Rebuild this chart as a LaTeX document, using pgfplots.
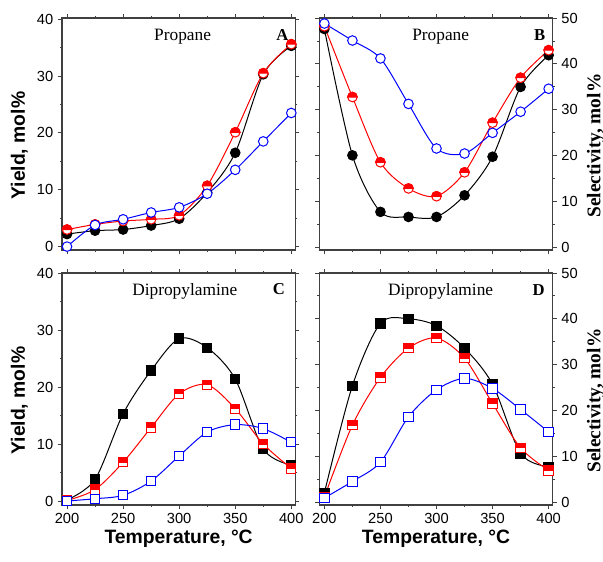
\documentclass[border=0pt]{standalone}
\usepackage{fontspec}
\setmainfont{Liberation Sans}
\newfontfamily\tnr{Liberation Serif}
\usepackage{pgfplots}
\pgfplotsset{compat=1.18}

% half-filled marks: top half red, bottom half white
\pgfdeclareplotmark{hcirc}{%
  \pgfpathcircle{\pgfpointorigin}{\pgfplotmarksize}%
  \pgfsetfillcolor{white}\pgfusepathqfillstroke
  \pgfpathmoveto{\pgfqpoint{\pgfplotmarksize}{0pt}}%
  \pgfpatharc{0}{180}{\pgfplotmarksize}%
  \pgfpathclose
  \pgfsetfillcolor{red}\pgfusepathqfillstroke}
\pgfdeclareplotmark{hsq}{%
  \pgfpathrectangle{\pgfqpoint{-\pgfplotmarksize}{-\pgfplotmarksize}}{\pgfqpoint{2\pgfplotmarksize}{2\pgfplotmarksize}}%
  \pgfsetfillcolor{white}\pgfusepathqfillstroke
  \pgfpathrectangle{\pgfqpoint{-\pgfplotmarksize}{0pt}}{\pgfqpoint{2\pgfplotmarksize}{\pgfplotmarksize}}%
  \pgfsetfillcolor{red}\pgfusepathqfillstroke}

\tikzset{
  ttl/.style={font=\tnr\fontsize{13}{13}\selectfont},
  lbl/.style={font=\tnr\bfseries\fontsize{12.5}{12.5}\selectfont},
}
\pgfplotsset{
  panel/.style={
    scale only axis, width=175pt, height=174pt,
    xmin=195.5, xmax=403.6,
    xtick={200,250,...,400}, minor x tick num=1,
    minor y tick num=1,
    tick align=outside, major tick length=3pt, minor tick length=1.6pt,
    axis line style={black!75, line width=0.9pt},
    every tick/.style={black!75, line width=0.7pt},
    tick label style={font=\fontsize{11}{11}\selectfont},
    /pgf/number format/assume math mode=true,
    label style={font=\bfseries\fontsize{14.5}{14.5}\selectfont},
    y label style={at={(ticklabel cs:0.45)}},
    x label style={yshift=2.5pt},
    clip=false,
  },
  left panel/.style={panel, ymin=-0.6, ymax=40.2, ytick={0,10,...,40},
    ylabel={Yield, mol\%}},
  right panel/.style={panel, ymin=-0.5, ymax=50, ytick={0,10,...,50},
    yticklabel pos=right,
    ylabel={\tnr Selectivity, mol\%}},
  blk/.style={black, line width=0.75pt, smooth},
  rd/.style={red, line width=0.75pt, smooth},
  bl/.style={blue, line width=0.75pt, smooth},
}

\begin{document}
\begin{tikzpicture}
\path[use as bounding box] (0pt,0pt) rectangle (452.25pt,-420.75pt);

% A
\begin{axis}[left panel, at={(46.5pt,-187.5pt)}, anchor=south west, xticklabels={}]
\addplot[blk, mark=*, mark size=3.6pt, mark options={fill=black}] coordinates {
 (200,2.2) (225,2.8) (250,3.0) (275,3.7) (300,4.9) (325,9.5) (350,16.5) (375,30.3) (400,35.3)};
\addplot[rd, mark=hcirc, mark size=3.6pt] coordinates {
 (200,3.0) (225,3.9) (250,4.5) (275,4.8) (300,5.5) (325,10.7) (350,20.1) (375,30.5) (400,35.6)};
\addplot[bl, mark=*, mark size=3.6pt, mark options={fill=white}] coordinates {
 (200,0.0) (225,3.8) (250,4.8) (275,6.0) (300,6.9) (325,9.3) (350,13.5) (375,18.5) (400,23.5)};
\node[ttl] at (axis description cs:0.517,0.92) {Propane};
\node[lbl] at (axis description cs:0.944,0.925) {A};
\end{axis}

% B
\begin{axis}[right panel, at={(239.5pt,-187.5pt)}, anchor=south west, xticklabels={}]
\addplot[blk, mark=*, mark size=3.6pt, mark options={fill=black}] coordinates {
 (200,47.6) (225,20.1) (250,7.8) (275,6.7) (300,6.7) (325,11.4) (350,19.8) (375,35.0) (400,41.9)};
\addplot[rd, mark=hcirc, mark size=3.6pt] coordinates {
 (200,48.2) (225,32.8) (250,18.6) (275,12.9) (300,11.2) (325,16.4) (350,27.2) (375,37.0) (400,43.0)};
\addplot[bl, mark=*, mark size=3.6pt, mark options={fill=white}] coordinates {
 (200,48.8) (225,45.1) (250,41.2) (275,31.3) (300,21.6) (325,20.5) (350,25.0) (375,29.6) (400,34.6)};
\node[ttl] at (axis description cs:0.52,0.92) {Propane};
\node[lbl] at (axis description cs:0.944,0.925) {B};
\end{axis}

% C
\begin{axis}[left panel, at={(46.5pt,-378.75pt)}, anchor=south west, ymin=-0.7, ymax=40,
  xlabel={Temperature, °C}]
\addplot[blk, mark=square*, mark size=3.5pt, mark options={fill=black}] coordinates {
 (200,0.2) (225,3.8) (250,15.3) (275,22.9) (300,28.5) (325,26.9) (350,21.4) (375,9.1) (400,6.3)};
\addplot[rd, mark=hsq, mark size=3.5pt] coordinates {
 (200,0.1) (225,2.0) (250,6.8) (275,12.9) (300,18.8) (325,20.4) (350,16.2) (375,10.0) (400,5.7)};
\addplot[bl, mark=square*, mark size=3.5pt, mark options={fill=white}] coordinates {
 (200,0.0) (225,0.4) (250,1.0) (275,3.5) (300,7.9) (325,12.1) (350,13.4) (375,12.7) (400,10.3)};
\node[ttl] at (axis description cs:0.526,0.92) {Dipropylamine};
\node[lbl] at (axis description cs:0.93,0.93) {C};
\end{axis}

% D
\begin{axis}[right panel, at={(239.5pt,-378.75pt)}, anchor=south west, ymin=-0.65, ymax=50,
  xlabel={Temperature, °C}]
\addplot[blk, mark=square*, mark size=3.5pt, mark options={fill=black}] coordinates {
 (200,2.0) (225,25.4) (250,39.0) (275,40.0) (300,38.5) (325,33.6) (350,25.7) (375,10.6) (400,7.7)};
\addplot[rd, mark=hsq, mark size=3.5pt] coordinates {
 (200,1.1) (225,16.8) (250,27.2) (275,33.6) (300,35.8) (325,31.4) (350,21.5) (375,11.8) (400,6.9)};
\addplot[bl, mark=square*, mark size=3.5pt, mark options={fill=white}] coordinates {
 (200,0.9) (225,4.5) (250,8.7) (275,18.6) (300,24.5) (325,27.0) (350,24.8) (375,20.2) (400,15.3)};
\node[ttl] at (axis description cs:0.52,0.92) {Dipropylamine};
\node[lbl] at (axis description cs:0.94,0.925) {D};
\end{axis}
\end{tikzpicture}
\end{document}
